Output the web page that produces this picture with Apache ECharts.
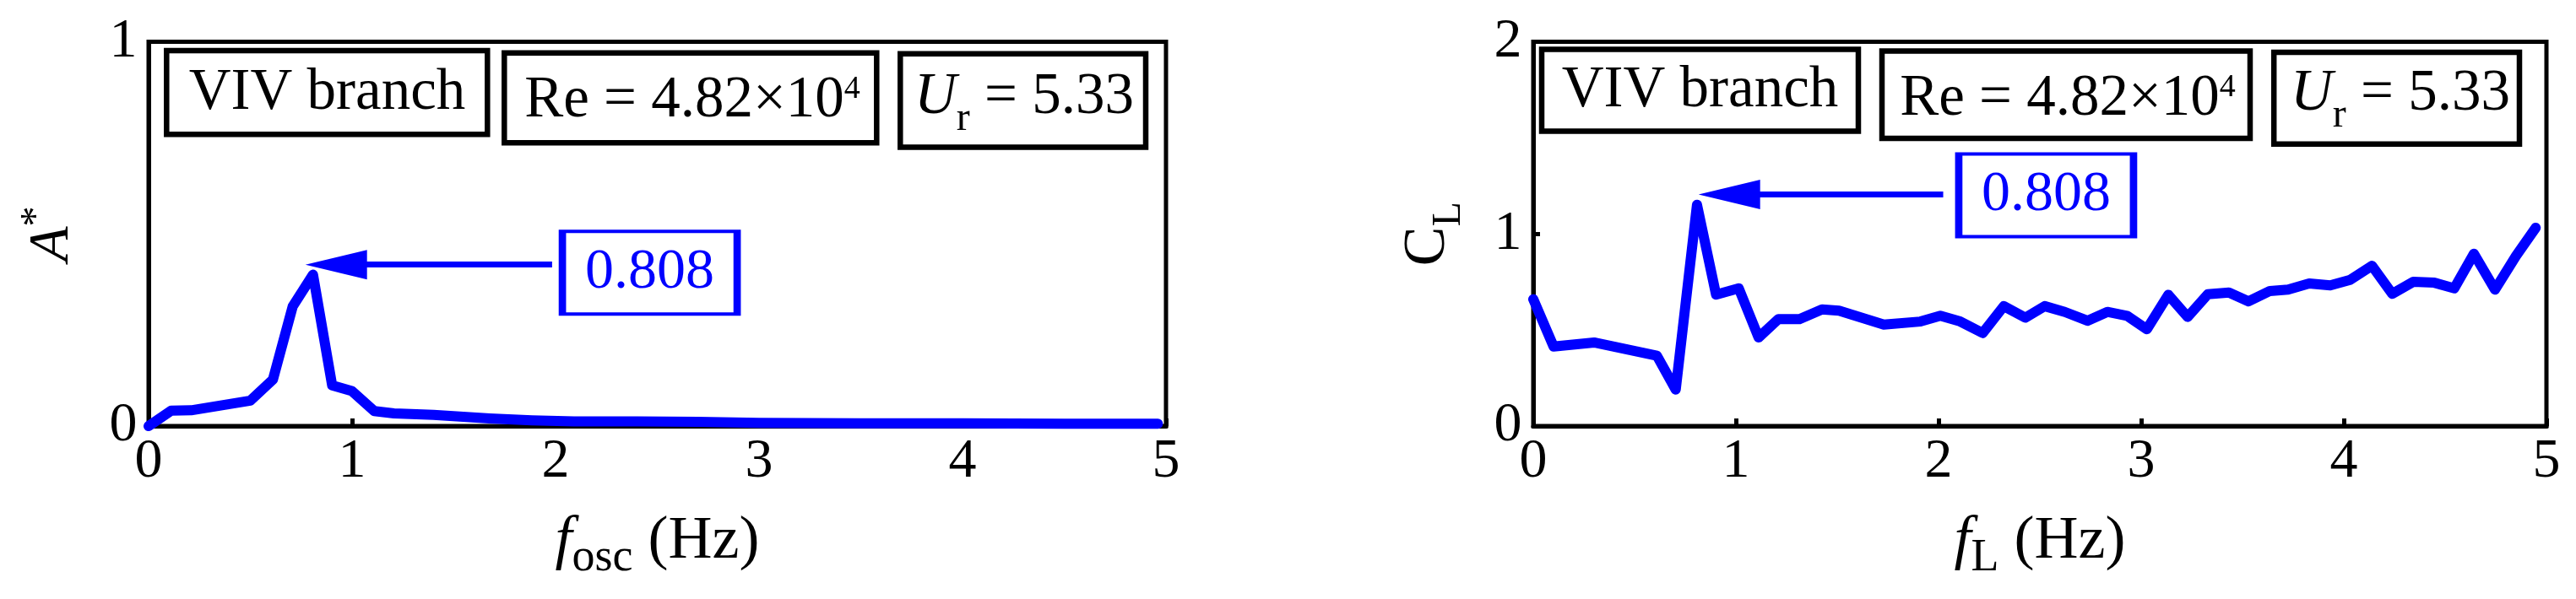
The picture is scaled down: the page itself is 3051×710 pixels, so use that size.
<!DOCTYPE html>
<html><head><meta charset="utf-8">
<script src="https://cdn.jsdelivr.net/npm/echarts@6/dist/echarts.min.js"></script>
<style>html,body{margin:0;padding:0;background:#fff}#c{width:3051px;height:710px}</style>
</head><body><div id="c"></div>
<script>
// ---- data ----
const fOsc = [0, 0.111, 0.209, 0.50, 0.611, 0.708, 0.808, 0.902, 0.999, 1.109, 1.206, 1.40, 1.676, 1.884, 2.091, 2.40, 2.70, 3.00, 3.50, 4.00, 4.50, 4.96];
const aStar = [0, 0.040, 0.041, 0.066, 0.121, 0.311, 0.394, 0.106, 0.091, 0.039, 0.033, 0.029, 0.020, 0.015, 0.012, 0.012, 0.011, 0.008, 0.007, 0.007, 0.006, 0.006];

const fL = [0, 0.10, 0.30, 0.61, 0.703, 0.808, 0.902, 1.014, 1.112, 1.209, 1.314, 1.425, 1.509, 1.730, 1.911, 2.009, 2.107, 2.218, 2.322, 2.428, 2.524, 2.623, 2.735, 2.833, 2.930, 3.028, 3.134, 3.229, 3.329, 3.433, 3.530, 3.635, 3.725, 3.829, 3.933, 4.031, 4.139, 4.239, 4.343, 4.447, 4.545, 4.642, 4.746, 4.850, 4.947];
const cL = [0.66, 0.414, 0.435, 0.366, 0.19, 1.152, 0.684, 0.717, 0.461, 0.556, 0.556, 0.607, 0.600, 0.528, 0.544, 0.574, 0.544, 0.484, 0.624, 0.564, 0.624, 0.594, 0.548, 0.594, 0.574, 0.504, 0.683, 0.568, 0.686, 0.695, 0.649, 0.703, 0.710, 0.742, 0.732, 0.761, 0.834, 0.688, 0.751, 0.746, 0.717, 0.897, 0.710, 0.886, 1.032];

const xTicks = [0, 1, 2, 3, 4, 5];
const yTicksA = [0, 1];
const yTicksC = [0, 1, 2];
const peakLabel = '0.808';
const infoTexts = ['VIV branch', 'Re = 4.82×10', '4', '5.33'];

// annotation anchors in data units
const annotA = { boxX: 2.463, boxY: 0.399, arrowY: 0.42, tailX: 1.983, headX: 0.922 };
const annotC = { boxX: 2.531, boxY: 1.201, arrowY: 1.205, tailX: 2.023, headX: 0.9675 };

const FONT = 'Liberation Serif';
const BLUE = '#0000ff';

function pairs(xs, ys) { return xs.map((x, i) => [x, ys[i]]); }

function xAxisCfg(grid, nameRich, name) {
  return {
    gridIndex: grid, type: 'value', min: xTicks[0], max: xTicks[xTicks.length - 1], interval: 1,
    name: name, nameLocation: 'middle', nameGap: 137,
    nameTextStyle: { align: 'center', verticalAlign: 'middle', fontFamily: FONT, fontSize: 72, color: '#000', rich: nameRich },
    axisLine: { show: true, onZero: false, lineStyle: { color: '#000', width: 5 } },
    axisTick: { show: true, inside: true, length: 9, lineStyle: { color: '#000', width: 5 } },
    axisLabel: { margin: 43, verticalAlign: 'middle', fontFamily: FONT, fontSize: 66, color: '#000' },
    splitLine: { show: false }
  };
}
function yAxisCfg(grid, max, nameRich, name, gap) {
  return {
    gridIndex: grid, type: 'value', min: 0, max: max, interval: 1,
    name: name, nameLocation: 'middle', nameRotate: 90, nameGap: gap,
    nameTextStyle: { align: 'center', verticalAlign: 'middle', fontFamily: FONT, fontSize: 68, color: '#000', rich: nameRich },
    axisLine: { show: true, onZero: false, lineStyle: { color: '#000', width: 5 } },
    axisTick: { show: true, inside: true, length: 8, lineStyle: { color: '#000', width: 5 } },
    axisLabel: { margin: 30, align: 'center', fontFamily: FONT, fontSize: 66, color: '#000' },
    splitLine: { show: false }
  };
}

function annotations(a) {
  return {
    markLine: {
      silent: true, animation: false,
      label: { show: false },
      lineStyle: { color: BLUE, width: 7, type: 'solid' },
      emphasis: { disabled: true },
      data: [[
        { coord: [a.tailX, a.arrowY], symbol: 'none' },
        { coord: [a.headX, a.arrowY], symbol: 'triangle', symbolSize: [35, 73] }
      ]]
    },
    markPoint: {
      silent: true, animation: false,
      data: [{
        coord: [a.boxX, a.boxY], symbol: 'rect', symbolSize: [207, 98],
        itemStyle: { color: '#fff', borderColor: BLUE, borderWidth: 6 },
        label: { show: true, position: 'inside', formatter: peakLabel, color: BLUE, fontFamily: FONT, fontSize: 68 }
      }]
    }
  };
}

function infoBoxes(b) {
  const els = [];
  b.forEach(bx => {
    els.push({ type: 'rect', shape: { x: bx.x, y: bx.y, width: bx.w, height: bx.h }, style: { fill: '#fff', stroke: '#000', lineWidth: 6.5 }, z: 10 });
    els.push({ type: 'text', x: bx.tx, y: bx.ty, z: 11, style: {
      text: bx.text, align: 'center', verticalAlign: 'middle', fontFamily: FONT, fontSize: 69, fill: '#000',
      rich: {
        n: { fontFamily: FONT, fontSize: 69, fill: '#000' },
        i: { fontFamily: FONT, fontSize: 69, fontStyle: 'italic', fill: '#000' },
        sup: { fontFamily: FONT, fontSize: 38, fill: '#000', padding: [0, 0, 28, 0] },
        sub: { fontFamily: FONT, fontSize: 48, fill: '#000', padding: [50, 0, 0, 0] }
      }
    } });
  });
  return els;
}

const reText = '{n|' + infoTexts[1] + '}{sup|' + infoTexts[2] + '}';
const urText = '{i|U}{sub|r}{n| = ' + infoTexts[3] + '}';

const xNameRich = {
  i: { fontFamily: FONT, fontSize: 72, fontStyle: 'italic', color: '#000' },
  n: { fontFamily: FONT, fontSize: 72, color: '#000' },
  sub: { fontFamily: FONT, fontSize: 54, color: '#000', padding: [40, 0, 0, 0] }
};

const option = {
  animation: false,
  backgroundColor: '#fff',
  grid: [
    { left: 176, top: 49.5, width: 1205, height: 455.5, show: true, borderColor: '#000', borderWidth: 5, backgroundColor: 'transparent', containLabel: false, outerBoundsMode: 'none' },
    { left: 1816, top: 49.5, width: 1200, height: 455.5, show: true, borderColor: '#000', borderWidth: 5, backgroundColor: 'transparent', containLabel: false, outerBoundsMode: 'none' }
  ],
  xAxis: [
    xAxisCfg(0, xNameRich, '{i|f}{sub|osc}{n| (Hz)}'),
    xAxisCfg(1, xNameRich, '{i|f}{sub|L}{n| (Hz)}')
  ],
  yAxis: [
    yAxisCfg(0, yTicksA[yTicksA.length - 1], { i: { fontFamily: FONT, fontSize: 68, fontStyle: 'italic', color: '#000' }, sup: { fontFamily: FONT, fontSize: 48, color: '#000', padding: [0, 0, 36, 0] } }, '{i|A}{sup|*}', 114),
    yAxisCfg(1, yTicksC[yTicksC.length - 1], { n: { fontFamily: FONT, fontSize: 70, color: '#000' }, sub: { fontFamily: FONT, fontSize: 48, color: '#000', padding: [49, 0, 0, 0] } }, '{n|C}{sub|L}', 124)
  ],
  series: [
    Object.assign({
      type: 'line', xAxisIndex: 0, yAxisIndex: 0, data: pairs(fOsc, aStar),
      showSymbol: false, symbol: 'none', clip: false, z: 5,
      lineStyle: { color: BLUE, width: 12, cap: 'round', join: 'round' },
      itemStyle: { color: BLUE }
    }, annotations(annotA)),
    Object.assign({
      type: 'line', xAxisIndex: 1, yAxisIndex: 1, data: pairs(fL, cL),
      showSymbol: false, symbol: 'none', clip: false, z: 5,
      lineStyle: { color: BLUE, width: 12, cap: 'round', join: 'round' },
      itemStyle: { color: BLUE }
    }, annotations(annotC))
  ],
  graphic: infoBoxes([
    { x: 197.3, y: 60, w: 380, h: 99.3, tx: 387.5, ty: 111, text: infoTexts[0] },
    { x: 597.3, y: 62.7, w: 441, h: 106.6, tx: 820, ty: 120, text: reText },
    { x: 1066.3, y: 63.7, w: 290.7, h: 110.8, tx: 1213, ty: 116, text: urText },
    { x: 1826, y: 58.6, w: 375, h: 97, tx: 2013.5, ty: 108, text: infoTexts[0] },
    { x: 2229, y: 60.6, w: 436, h: 103.4, tx: 2449, ty: 118, text: reText },
    { x: 2693.2, y: 62, w: 290.8, h: 108.8, tx: 2843, ty: 112, text: urText }
  ])
};

const chart = echarts.init(document.getElementById('c'), null, { renderer: 'canvas', width: 3051, height: 710 });
chart.setOption(option);
</script>
</body></html>
